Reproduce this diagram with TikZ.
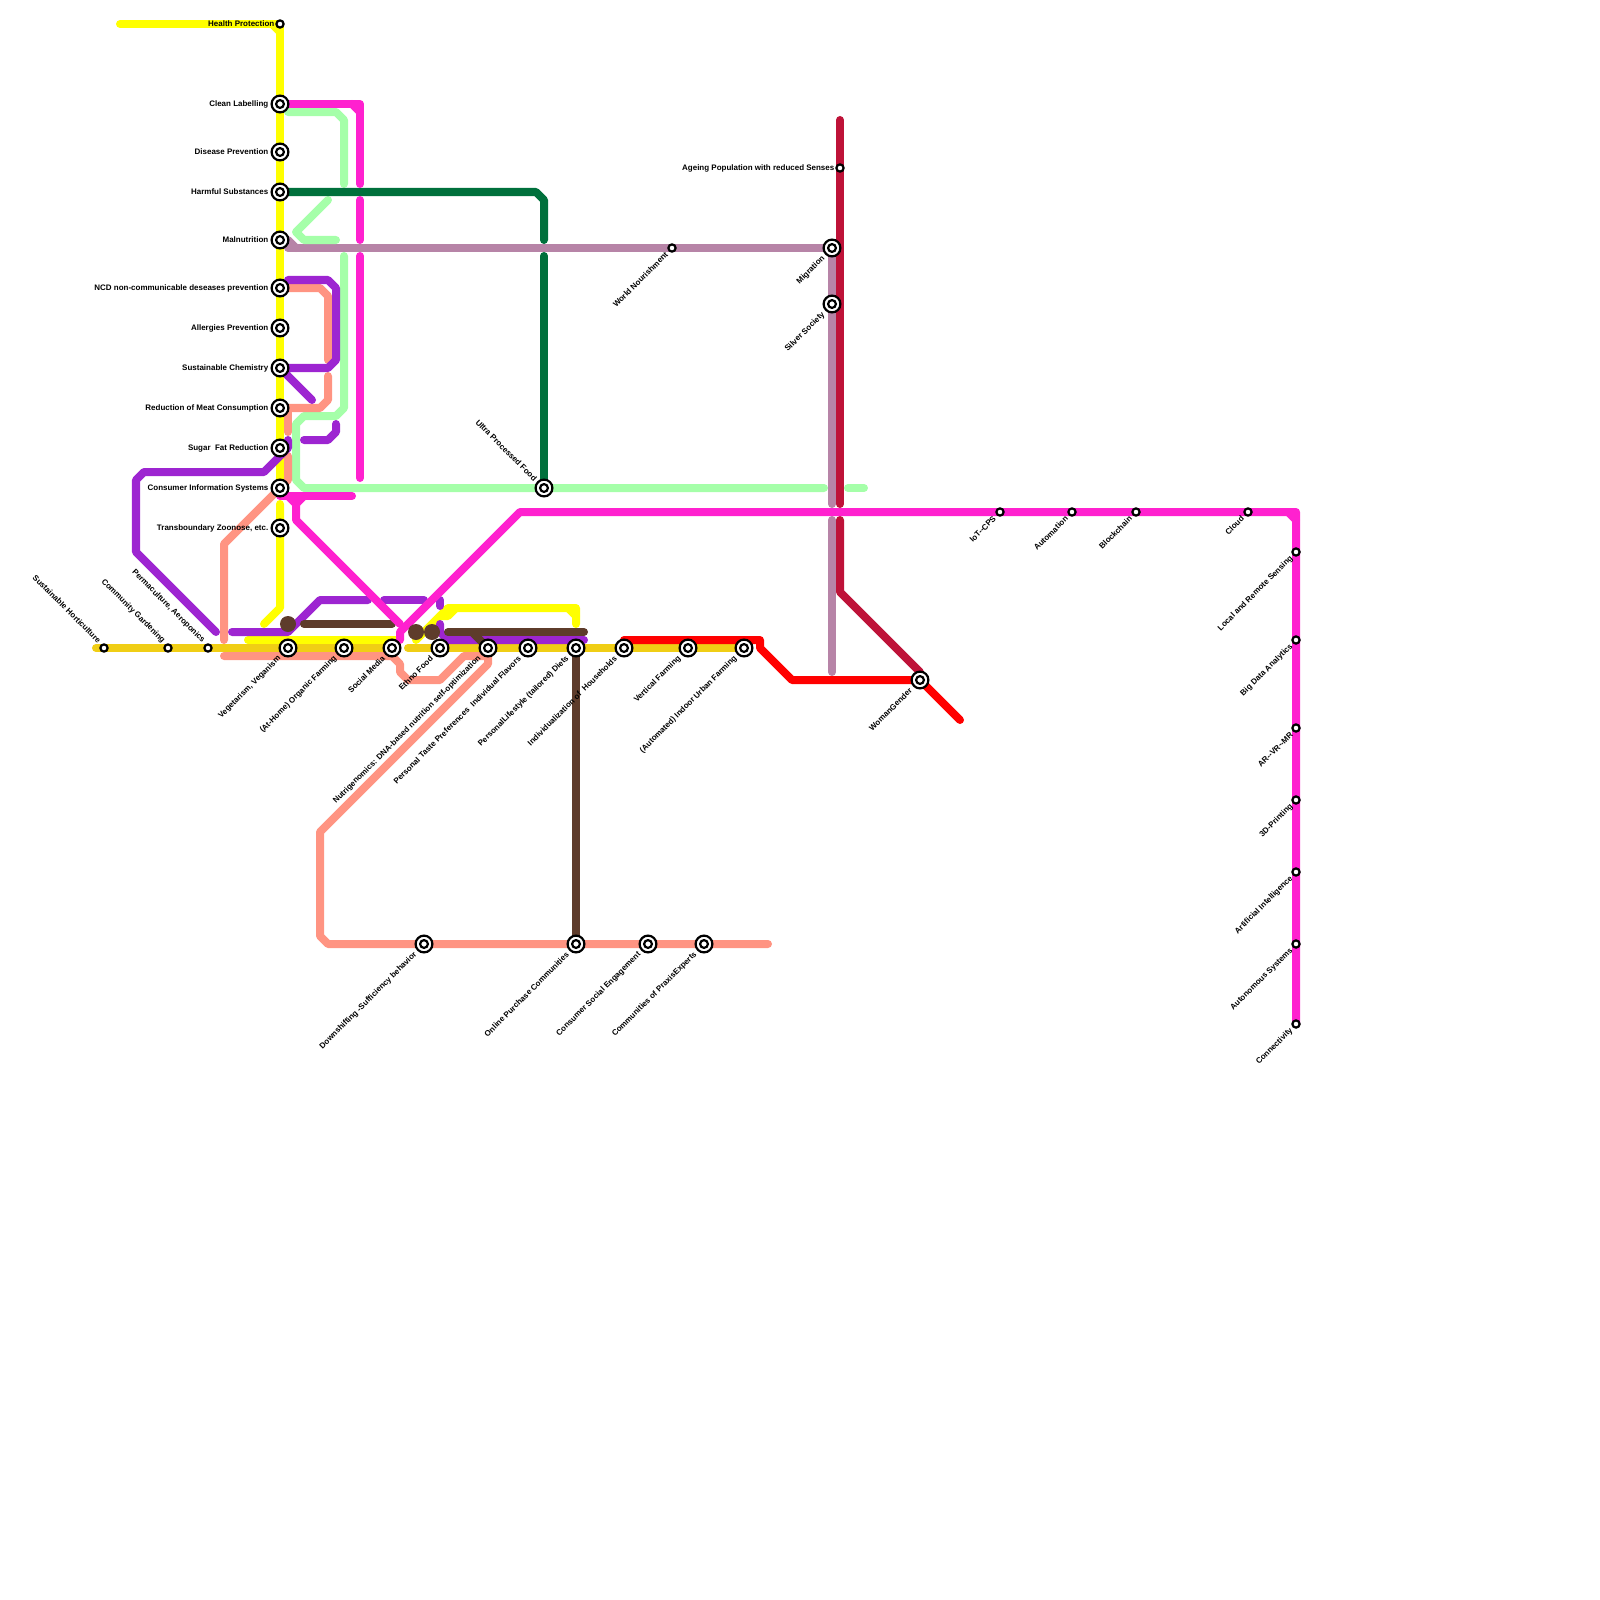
\documentclass[tikz,border=0pt]{standalone}
\usepackage{fontspec}
\setmainfont{Liberation Sans}
\usetikzlibrary{backgrounds}
\definecolor{lineyellow}{HTML}{FFFF00}
\definecolor{linegold}{HTML}{F0CE15}
\definecolor{linemauve}{HTML}{B784A7}
\definecolor{linegreen}{HTML}{A5FFA9}
\definecolor{linesalmon}{HTML}{FF9482}
\definecolor{linepurple}{HTML}{9D25D1}
\definecolor{linebrown}{HTML}{5E3C2B}
\definecolor{linecrimson}{HTML}{BE1238}
\definecolor{linedkgreen}{HTML}{00703C}
\definecolor{linered}{HTML}{FF0000}
\definecolor{linepink}{HTML}{FF21CF}

\begin{document}
\begin{tikzpicture}[x=.01cm,y=-.01cm,
 ln/.style={line width=.08cm,line cap=round,line join=round},
 stn/.style={circle,draw=black,fill=white,line width=.022cm,minimum size=.072cm,inner sep=0pt},
 ixn/.style={circle,draw=black,fill=white,line width=.022cm,minimum size=.168cm,inner sep=0pt,
  path picture={\draw[line width=.022cm] (path picture bounding box.center) circle (.039cm);}},
 dot/.style={circle,fill=linebrown,minimum size=.16cm,inner sep=0pt},
 tag/.style={font=\bfseries\fontsize{2.27}{3}\selectfont,inner sep=0pt},
 tagl/.style={tag,anchor=east},
 tagup/.style={tag,anchor=east,rotate=45},
 tagdn/.style={tag,anchor=east,rotate=-45}]
\useasboundingbox (0,0) rectangle (1600,1600);
% left column
\node[stn] (health) at (280,24) {};
\node[tagl] (healthT) at (275,24) {Health Protection};
\node[ixn] (clean) at (280,104) {};
\node[tagl] (cleanT) at (269,104) {Clean Labelling};
\node[ixn] (disease) at (280,152) {};
\node[tagl] (diseaseT) at (269,152) {Disease Prevention};
\node[ixn] (harmful) at (280,192) {};
\node[tagl] (harmfulT) at (269,192) {Harmful Substances};
\node[ixn] (malnu) at (280,240) {};
\node[tagl] (malnuT) at (269,240) {Malnutrition};
\node[ixn] (ncd) at (280,288) {};
\node[tagl] (ncdT) at (269,288) {NCD non-communicable deseases prevention};
\node[ixn] (allergy) at (280,328) {};
\node[tagl] (allergyT) at (269,328) {Allergies Prevention};
\node[ixn] (chem) at (280,368) {};
\node[tagl] (chemT) at (269,368) {Sustainable Chemistry};
\node[ixn] (meat) at (280,408) {};
\node[tagl] (meatT) at (269,408) {Reduction of Meat Consumption};
\node[ixn] (sugar) at (280,448) {};
\node[tagl] (sugarT) at (269,448) {Sugar\ \ Fat Reduction};
\node[ixn] (cis) at (280,488) {};
\node[tagl] (cisT) at (269,488) {Consumer Information Systems};
\node[ixn] (zoonose) at (280,528) {};
\node[tagl] (zoonoseT) at (269,528) {Transboundary Zoonose, etc.};
% row along the gold line
\node[stn] (horti) at (104,648) {};
\node[tagdn] (hortiT) at (100,642) {Sustainable Horticulture};
\node[stn] (garden) at (168,648) {};
\node[tagdn] (gardenT) at (164,642) {Community Gardening};
\node[stn] (perma) at (208,648) {};
\node[tagdn] (permaT) at (204,642) {Permaculture, Aeroponics};
\node[ixn] (vegan) at (288,648) {};
\node[tagup] (veganT) at (280,657) {Vegetarism, Veganism};
\node[ixn] (organic) at (344,648) {};
\node[tagup] (organicT) at (336,657) {(At-Home) Organic Farming};
\node[ixn] (social) at (392,648) {};
\node[tagup] (socialT) at (384,657) {Social Media};
\node[ixn] (ethno) at (440,648) {};
\node[tagup] (ethnoT) at (432,657) {Ethno Food};
\node[ixn] (nutri) at (488,648) {};
\node[tagup] (nutriT) at (480,657) {Nutrigenomics: DNA-based nutrition self-optimization};
\node[ixn] (taste) at (528,648) {};
\node[tagup] (tasteT) at (520,657) {Personal Taste Preferences\ \ Individual Flavors};
\node[ixn] (diets) at (576,648) {};
\node[tagup] (dietsT) at (568,657) {PersonalLifestyle (tailored) Diets};
\node[ixn] (house) at (624,648) {};
\node[tagup] (houseT) at (616,657) {Individualization of\ \ Households};
\node[ixn] (vertical) at (688,648) {};
\node[tagup] (verticalT) at (680,657) {Vertical Farming};
\node[ixn] (indoor) at (744,648) {};
\node[tagup] (indoorT) at (736,657) {(Automated) Indoor Urban Farming};
% salmon row
\node[ixn] (downsh) at (424,944) {};
\node[tagup] (downshT) at (416,953) {Downshifting -Sufficiency behavior};
\node[ixn] (online) at (576,944) {};
\node[tagup] (onlineT) at (568,953) {Online Purchase Communities};
\node[ixn] (engage) at (648,944) {};
\node[tagup] (engageT) at (640,953) {Consumer Social Engagement};
\node[ixn] (praxis) at (704,944) {};
\node[tagup] (praxisT) at (696,953) {Communities of PraxisExperts};
% middle
\node[ixn] (ultra) at (544,488) {};
\node[tagdn] (ultraT) at (536,480) {Ultra Processed Food};
\node[stn] (world) at (672,248) {};
\node[tagup] (worldT) at (667,253) {World Nourishment};
\node[ixn] (migra) at (832,248) {};
\node[tagup] (migraT) at (824,257) {Migration};
\node[ixn] (silver) at (832,304) {};
\node[tagup] (silverT) at (824,313) {Silver Society};
\node[stn] (ageing) at (840,168) {};
\node[tagl] (ageingT) at (835,168) {Ageing Population with reduced Senses};
\node[ixn] (woman) at (920,680) {};
\node[tagup] (womanT) at (911,689) {WomanGender};
% pink line
\node[stn] (iot) at (1000,512) {};
\node[tagup] (iotT) at (995,517) {IoT{-}{-}CPS};
\node[stn] (autom) at (1072,512) {};
\node[tagup] (automT) at (1067,517) {Automation};
\node[stn] (block) at (1136,512) {};
\node[tagup] (blockT) at (1131,517) {Blockchain};
\node[stn] (cloud) at (1248,512) {};
\node[tagup] (cloudT) at (1243,517) {Cloud};
\node[stn] (sensing) at (1296,552) {};
\node[tagup] (sensingT) at (1292,557) {Local and Remote Sensing};
\node[stn] (bigdata) at (1296,640) {};
\node[tagup] (bigdataT) at (1292,645) {Big Data Analytics};
\node[stn] (arvr) at (1296,728) {};
\node[tagup] (arvrT) at (1292,733) {AR{-}{-}VR{-}{-}MR};
\node[stn] (print) at (1296,800) {};
\node[tagup] (printT) at (1292,805) {3D-Printing};
\node[stn] (ai) at (1296,872) {};
\node[tagup] (aiT) at (1292,877) {Artificial Intelligence};
\node[stn] (autosys) at (1296,944) {};
\node[tagup] (autosysT) at (1292,949) {Autonomous Systems};
\node[stn] (connect) at (1296,1024) {};
\node[tagup] (connectT) at (1292,1029) {Connectivity};
% free line ends
\node[dot] (dotA) at (288,624) {};
\node[dot] (dotB) at (416,632) {};
\node[dot] (dotC) at (432,632) {};
\begin{scope}[on background layer]
\draw[ln,linemauve] (malnu.center) -- (288,240) -- (296,248);
\draw[ln,linemauve] (288,248) -- (world.center) -- (migra.center) -- (silver.center) -- (832,504);
\draw[ln,linemauve] (832,520) -- (832,672);
\draw[ln,lineyellow] (120,24) -- (health.center) -- (clean.center) -- (disease.center) -- (harmful.center) -- (malnu.center) -- (ncd.center) -- (allergy.center) -- (chem.center) -- (meat.center) -- (sugar.center) -- (cis.center);
\draw[ln,lineyellow] (272,24) -- (280,32);
\draw[ln,lineyellow] (280,504) -- (zoonose.center) -- (280,608) -- (264,624);
\draw[ln,lineyellow] (248,640) -- (396,640);
\draw[ln,lineyellow] (416,640) -- (448,608) -- (576,608) -- (576,624);
\draw[ln,lineyellow] (568,608) -- (576,616);
\draw[ln,lineyellow] (440,616) -- (448,616) -- (456,608);
\draw[ln,linegold] (96,648) -- (horti.center) -- (garden.center) -- (perma.center) -- (vegan.center) -- (organic.center) -- (social.center);
\draw[ln,linegold] (408,648) -- (ethno.center) -- (nutri.center) -- (taste.center) -- (diets.center) -- (house.center) -- (vertical.center) -- (indoor.center);
\draw[ln,linegreen] (288,112) -- (336,112) -- (344,120) -- (344,184);
\draw[ln,linegreen] (328,200) -- (296,232) -- (304,240) -- (336,240);
\draw[ln,linegreen] (344,256) -- (344,408) -- (336,416) -- (304,416) -- (296,424) -- (296,480) -- (304,488) -- (ultra.center) -- (824,488);
\draw[ln,linegreen] (848,488) -- (864,488);
\draw[ln,linesalmon] (224,656) -- (392,656) -- (400,664) -- (400,672) -- (408,680) -- (440,680) -- (464,656) -- (488,656) -- (488,664) -- (320,832) -- (320,936) -- (328,944) -- (downsh.center) -- (online.center) -- (engage.center) -- (praxis.center) -- (768,944);
\draw[ln,linesalmon] (224,640) -- (224,544) -- (cis.center) -- (288,480) -- (288,456);
\draw[ln,linesalmon] (288,432) -- (288,408);
\draw[ln,linesalmon] (meat.center) -- (320,408) -- (328,400) -- (328,376);
\draw[ln,linesalmon] (ncd.center) -- (320,288) -- (328,296) -- (328,360);
\draw[ln,linepurple] (288,280) -- (328,280) -- (336,288) -- (336,360) -- (328,368) -- (chem.center) -- (312,400);
\draw[ln,linepurple] (304,440) -- (328,440) -- (336,432) -- (336,424);
\draw[ln,linepurple] (288,440) -- (288,448) -- (264,472) -- (144,472) -- (136,480) -- (136,552) -- (216,632);
\draw[ln,linepurple] (232,632) -- (288,632) -- (320,600) -- (368,600);
\draw[ln,linepurple] (384,600) -- (424,600);
\draw[ln,linepurple] (440,600) -- (440,606);
\draw[ln,linepurple] (440,624) -- (440,632) -- (448,640) -- (584,640);
\draw[ln,linebrown] (304,624) -- (392,624);
\draw[ln,linebrown] (448,632) -- (584,632);
\draw[ln,linebrown] (472,632) -- (nutri.center);
\draw[ln,linebrown] (diets.center) -- (online.center);
\draw[ln,linecrimson] (840,120) -- (ageing.center) -- (840,504);
\draw[ln,linecrimson] (840,520) -- (840,592) -- (920,672);
\draw[ln,linedkgreen] (harmful.center) -- (536,192) -- (544,200) -- (544,240);
\draw[ln,linedkgreen] (544,256) -- (ultra.center);
\draw[ln,linered] (624,640) -- (760,640) -- (760,648) -- (792,680) -- (woman.center) -- (960,720);
\draw[ln,linepink] (clean.center) -- (360,104) -- (360,184);
\draw[ln,linepink] (352,104) -- (360,112);
\draw[ln,linepink] (360,200) -- (360,240);
\draw[ln,linepink] (360,256) -- (360,478);
\draw[ln,linepink] (280,496) -- (352,496);
\draw[ln,linepink] (288,496) -- (296,504) -- (304,496);
\draw[ln,linepink] (296,504) -- (296,520) -- (400,624);
\draw[ln,linepink] (400,640) -- (400,632) -- (520,512) -- (iot.center) -- (autom.center) -- (block.center) -- (cloud.center) -- (1296,512) -- (sensing.center) -- (bigdata.center) -- (arvr.center) -- (print.center) -- (ai.center) -- (autosys.center) -- (connect.center);
\draw[ln,linepink] (1288,512) -- (1296,520);
\end{scope}
\end{tikzpicture}
\end{document}
